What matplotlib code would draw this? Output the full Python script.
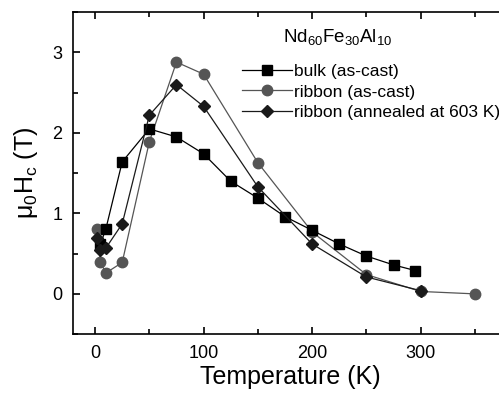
import matplotlib
matplotlib.use("Agg")
from matplotlib import pyplot as plt
from matplotlib.ticker import MultipleLocator

plt.rcParams["font.family"] = ["Liberation Sans", "DejaVu Sans"]
plt.rcParams["mathtext.fontset"] = "custom"
plt.rcParams["mathtext.rm"] = "Liberation Sans"
plt.rcParams["mathtext.it"] = "Liberation Sans"
plt.rcParams["mathtext.bf"] = "Liberation Sans"

# data
bulk_T = [5, 10, 25, 50, 75, 100, 125, 150, 175, 200, 225, 250, 275, 295]
bulk_H = [0.62, 0.81, 1.64, 2.05, 1.95, 1.74, 1.40, 1.19, 0.96, 0.79, 0.62, 0.47, 0.36, 0.29]

ribbon_T = [2, 5, 10, 25, 50, 75, 100, 150, 200, 250, 300, 350]
ribbon_H = [0.81, 0.39, 0.26, 0.39, 1.89, 2.88, 2.73, 1.63, 0.77, 0.24, 0.03, 0.0]

annealed_T = [2, 5, 10, 25, 50, 75, 100, 150, 200, 250, 300]
annealed_H = [0.70, 0.54, 0.57, 0.87, 2.22, 2.60, 2.33, 1.33, 0.62, 0.21, 0.04]

fig = plt.figure(figsize=(4.99, 3.94), dpi=100)
ax = fig.add_axes([0.147, 0.152, 0.870, 0.817])

ax.plot(bulk_T, bulk_H, color="black", lw=0.9, marker="s", ms=6.5,
        mfc="black", mec="black", label="bulk (as-cast)", zorder=3)
ax.plot(ribbon_T, ribbon_H, color="#555555", lw=0.9, marker="o", ms=7.5,
        mfc="#555555", mec="#555555", label="ribbon (as-cast)", zorder=2)
ax.plot(annealed_T, annealed_H, color="#1a1a1a", lw=0.9, marker="D", ms=6.5,
        mfc="#1a1a1a", mec="#1a1a1a", label="ribbon (annealed at 603 K)", zorder=4)

ax.set_xlim(-20, 380)
ax.set_ylim(-0.5, 3.5)
ax.xaxis.set_major_locator(MultipleLocator(100))
ax.xaxis.set_minor_locator(MultipleLocator(50))
ax.yaxis.set_major_locator(MultipleLocator(1))
ax.yaxis.set_minor_locator(MultipleLocator(0.5))
ax.tick_params(which="both", direction="in", top=True, right=False,
               labelsize=13, width=1.2)
ax.tick_params(which="major", length=5, pad=8)
ax.tick_params(which="minor", length=3.5)
for s in ax.spines.values():
    s.set_linewidth(1.2)

ax.set_xlabel("Temperature (K)", fontsize=18, labelpad=2)
ax.set_ylabel(r"$\mathregular{\mu_0H_c}$ (T)", fontsize=18, labelpad=9)

fig.text(338 / 499, 1 - 37 / 394, r"Nd$_{60}$Fe$_{30}$Al$_{10}$", fontsize=13.5,
         ha="center", va="center")
leg = ax.legend(loc="upper left",
                bbox_to_anchor=(242 / 499, 1 - 64 / 394), bbox_transform=fig.transFigure,
                frameon=False, fontsize=12.5,
                handlelength=2.9, handletextpad=0.1, labelspacing=0.3,
                borderpad=0, borderaxespad=0)

fig.savefig("out.png", dpi=100)
